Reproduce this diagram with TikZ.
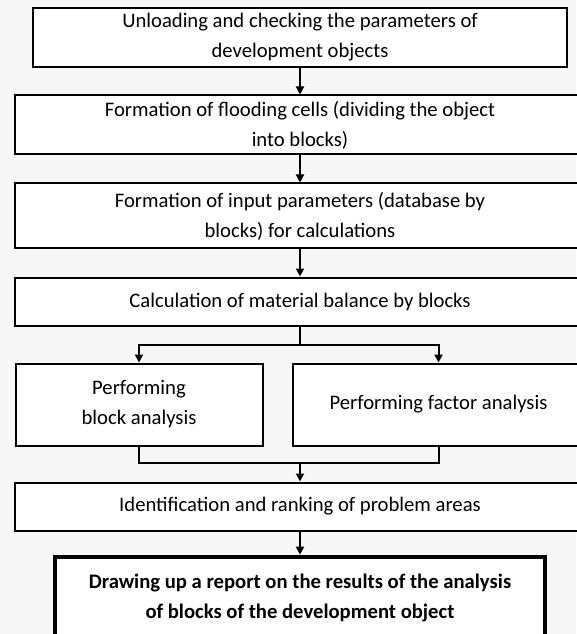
\documentclass[tikz,border=0pt]{standalone}
\usepackage{fontspec}
\setmainfont{Carlito}
\usetikzlibrary{arrows.meta,calc,positioning}
\definecolor{pagebg}{RGB}{247,247,247}

\begin{document}
\begin{tikzpicture}[x=0.75pt,y=-0.75pt,
    box/.style={draw,fill=white,line width=1.5pt,align=center,inner sep=0pt,
      font=\fontsize{15.5}{22.5}\selectfont},
    arr/.style={line width=1.5pt,-{Triangle[length=6pt,width=6pt]}},
    lin/.style={line width=1.5pt}]
      \useasboundingbox[fill=pagebg] (0,0) rectangle (576,634);
      \node[box,line width=2.2pt,minimum width=400.5pt,minimum height=44.25pt] (load) at (300,37.5)
        {Unloading and checking the parameters of\\development objects};
      \node[box,minimum width=427.5pt,minimum height=44.25pt] (cells) at (300,125)
        {Formation of flooding cells (dividing the object\\into blocks)};
      \node[box,minimum width=427.5pt,minimum height=48.75pt] (input) at (300,216)
        {Formation of input parameters (database by\\blocks) for calculations};
      \node[box,minimum width=427.5pt,minimum height=36pt] (balance) at (300,301.5)
        {Calculation of material balance by blocks};
      \node[box,minimum width=185.25pt,minimum height=61.5pt] (blockan) at (139,404.5)
        {Performing\\block analysis};
      \node[box,minimum width=219pt,minimum height=61.5pt] (factoran) at (438.5,404.5)
        {Performing factor analysis};
      \node[box,minimum width=427.5pt,minimum height=36pt] (problem) at (300,506.5)
        {Identification and ranking of problem areas};
      \node[box,line width=3.5pt,minimum width=367.5pt,minimum height=61.5pt,font=\bfseries\fontsize{15.5}{22.5}\selectfont] (report) at (300,598)
        {Drawing up a report on the results of the analysis\\of blocks of the development object};
      \coordinate (split) at (300,345);
      \coordinate (merge) at (300,463);
      \draw[arr] (load) -- (cells);
      \draw[arr] (cells) -- (input);
      \draw[arr] (input) -- (balance);
      \draw[lin] (balance) -- (split);
      \draw[arr] (split) -| (blockan);
      \draw[arr] (split) -| (factoran);
      \draw[lin] (blockan) |- (merge) -| (factoran);
      \draw[arr] (merge) -- (problem);
      \draw[arr] (problem) -- (report);
    \end{tikzpicture}
\end{document}
